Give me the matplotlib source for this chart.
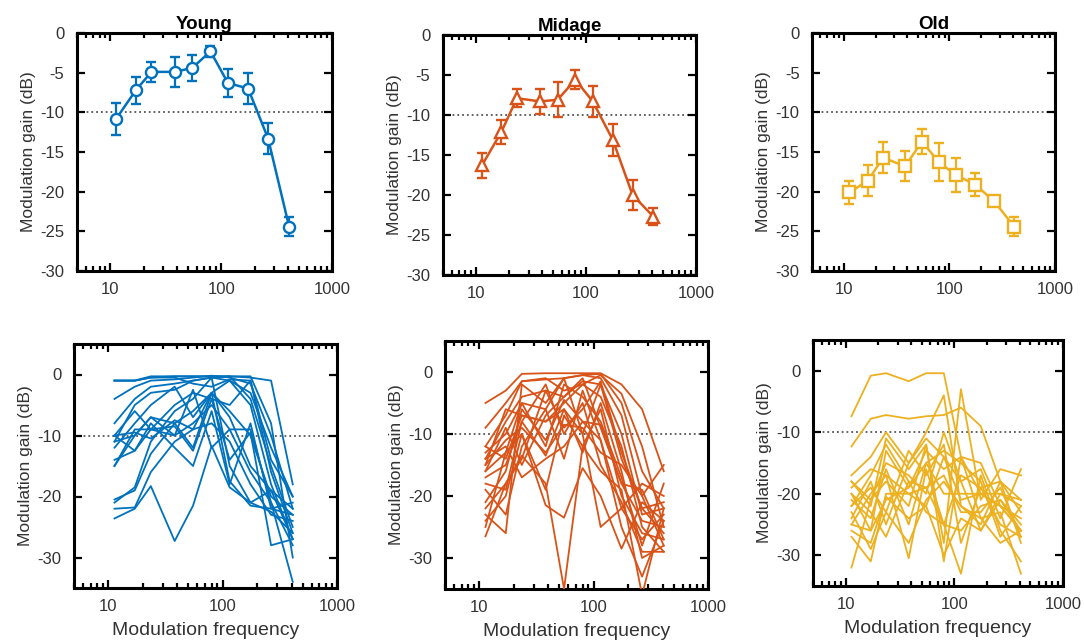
import numpy as np
import matplotlib
matplotlib.use("Agg")
import matplotlib.pyplot as plt
from matplotlib.ticker import LogLocator, NullFormatter, FixedLocator

plt.rcParams['font.family'] = ['Liberation Sans', 'DejaVu Sans']
plt.rcParams['axes.unicode_minus'] = False

# modulation frequencies (Hz)
freq = [11.3, 17, 23.5, 38, 55, 80, 115, 175, 265, 410]

groups = ['Young', 'Midage', 'Old']
colors = ['#0072BD', '#D95319', '#EDB120']
markers = ['o', '^', 's']

# group means and error bars (dB)
young_mean = [-10.8, -7.2, -4.9, -4.9, -4.4, -2.3, -6.3, -7.0, -13.3, -24.4]
young_err = [2.0, 1.7, 1.3, 1.9, 1.6, 0.7, 1.8, 1.9, 1.9, 1.2]
midage_mean = [-16.3, -12.1, -7.9, -8.3, -8.1, -5.6, -8.3, -13.1, -20.0, -22.7]
midage_err = [1.6, 1.5, 1.1, 1.6, 2.2, 1.2, 1.9, 2.0, 1.9, 1.1]
old_mean = [-20.1, -18.6, -15.7, -16.8, -13.7, -16.3, -17.9, -19.1, -21.2, -24.4]
old_err = [1.4, 2.0, 1.9, 1.9, 1.6, 2.4, 2.2, 1.5, 0.6, 1.2]

# individual listeners (dB)
young_ind = [
    [-1, -1, -0.3, -0.3, -0.3, -0.3, -0.3, -0.5, -1, -18],
    [-1, -1, -0.5, -0.3, -0.3, -0.3, -0.3, -0.3, -8, -30],
    [-4, -2, -1, -0.8, -0.5, -0.2, -0.5, -1.5, -10, -22],
    [-8, -4, -2, -1.5, -1, -0.5, -0.3, -4, -15, -25],
    [-11, -5, -3, -2.5, -1, -0.5, -1, -3, -12, -20],
    [-12, -8, -5, -2, -7, -3, -1, -5, -18, -27],
    [-15, -10, -7, -8, -12, -3, -6, -10, -20, -23],
    [-15, -9, -9, -10, -8, -5, -9, -9, -21, -34],
    [-10, -12.5, -8, -12, -15, -6, -18, -8, -22, -23],
    [-21, -18.5, -11, -6, -4, -0.5, -15, -21, -19, -22],
    [-22, -21.8, -16, -11, -9, -3, -17.5, -21.5, -22, -21],
    [-23.6, -22, -18.3, -27.3, -21.5, -11.7, -18.5, -21, -22.5, -26],
    [-20.5, -19, -13, -8, -6, -3, -7, -15, -19, -27],
    [-10, -6, -9, -8.5, -12.5, -4, -5, -1, -14, -20],
    [-11, -10, -7, -10, -2.5, -12, -9, -16, -21, -28],
    [-14, -12.5, -9, -5, -3, -4, -14, -9.5, -28, -27],
    [-10, -9.5, -10.5, -7.5, -9, -8, -11, -18, -23, -24],
    [-1, -1, -0.5, -0.5, -1.5, -2, -0.8, -1, -16, -26],
]
midage_ind = [
    [-5, -3, -0.3, -0.2, -0.2, -0.2, -0.2, -2, -6, -16],
    [-9, -5, -1.5, -1.2, -1, -0.5, -0.3, -5, -16, -22],
    [-12, -7, -1.5, -1, -3, -2, -0.5, -3.5, -12, -25],
    [-13, -10, -5, -6, -1, -0.5, -1, -7, -20, -28],
    [-14, -8, -4, -3, -4, -1.5, -2, -10, -23, -22],
    [-15, -6, -7, -8, -5, -2, -4, -12, -25, -29],
    [-16, -13, -5, -12, -2, -4, -8, -17, -28, -18],
    [-17, -15, -8, -13.5, -6, -10, -2, -14, -22, -26],
    [-18, -19, -8, -2, -10, -5, -15, -21, -29, -29],
    [-21, -16, -6, -11, -4.5, -8, -11, -25, -33, -24],
    [-23, -26, -2, -5, -1, -10, -25, -22, -18, -20],
    [-24, -20, -10, -19, -7, -12, -6, -20, -26, -27],
    [-25, -13, -10, -21.5, -23.5, -15.5, -20, -28.5, -21, -24],
    [-26.5, -18, -13.5, -18, -35, -12, -16, -19, -36, -22],
    [-15, -11, -9, -13, -8.5, -9, -13, -15, -20, -15],
    [-14, -12, -17, -14, -12, -8, -8.5, -18, -24, -25],
    [-12, -14, -7, -8, -6, -13, -5, -16, -30, -28],
    [-22, -18, -14, -3, -9, -6, -1.5, -13, -22, -21],
    [-19, -23, -12, -6, -14, -3, -11, -22, -27, -23],
    [-16, -9, -15, -7, -4, -1, -9, -18, -19, -27],
]
old_ind = [
    [-7.4, -0.8, -0.4, -1.7, -0.4, -0.4, -14, -20, -22, -26],
    [-12.3, -7.8, -7.2, -7.8, -7.4, -7.2, -6, -9, -18, -23],
    [-17, -14, -10, -15, -10, -4, -22, -25, -18, -21],
    [-18, -22, -11, -16, -12, -28, -3, -21, -16, -17],
    [-20, -26, -13, -19, -13, -16, -14, -15, -22, -26],
    [-21, -24, -16, -25, -15, -20, -20, -20, -20, -21],
    [-22, -19, -23, -13, -17, -12, -28, -19, -25, -27],
    [-23, -29, -23, -28, -21, -18, -22, -24, -28, -26],
    [-25, -20, -17, -30.5, -16, -25, -33, -17, -26, -31],
    [-27, -31, -20, -20, -22, -30, -24, -26, -21, -25],
    [-32, -21, -18, -22, -12, -31, -14, -24, -23, -33],
    [-19, -16, -17, -20, -19, -17, -23, -23, -19, -27],
    [-24, -18, -25, -15, -11, -14, -18, -26, -20, -22],
    [-26, -28, -20.5, -24, -22, -14, -21, -20, -22, -24],
    [-18, -21, -15, -17, -20, -10, -18, -16, -24, -16],
    [-20, -23, -27, -18, -19, -25, -17, -19, -18, -28],
    [-22, -17, -12, -18, -23, -25, -26, -22, -21, -26],
    [-25, -26, -21, -19, -15, -13, -15, -18, -27, -22],
]

means = [young_mean, midage_mean, old_mean]
errs = [young_err, midage_err, old_err]
inds = [young_ind, midage_ind, old_ind]

W, H = 1084, 643
fig = plt.figure(figsize=(W / 100, H / 100), dpi=100)

# axes boxes in pixels: left, right, top, bottom
top_boxes = [(77, 332, 33, 271), (443, 696, 35, 275), (812, 1055, 33, 271)]
bot_boxes = [(74, 337, 344, 588), (445, 708, 341, 589), (813, 1063, 340, 586)]

txt = '#333333'


def make_ax(box):
    l, r, t, b = box
    ax = fig.add_axes([l / W, (H - b) / H, (r - l) / W, (b - t) / H])
    ax.set_xscale('log')
    ax.set_xlim(5, 1000)
    ax.xaxis.set_major_locator(FixedLocator([10, 100, 1000]))
    ax.xaxis.set_minor_locator(LogLocator(base=10, subs=np.arange(2, 10)))
    ax.xaxis.set_minor_formatter(NullFormatter())
    ax.set_xticklabels(['10', '100', '1000'])
    ax.tick_params(which='both', direction='in', top=True, right=True,
                   labelsize=12, labelcolor=txt, width=1.6)
    ax.tick_params(which='major', length=6)
    ax.tick_params(which='minor', length=3.5)
    ax.tick_params(axis='x', pad=8)
    ax.tick_params(axis='y', pad=9)
    for s in ax.spines.values():
        s.set_linewidth(2.2)
    ax.axhline(-10, color='#555555', ls=':', lw=1.3, zorder=1)
    ax.set_ylabel('Modulation gain (dB)', fontsize=12.5, color=txt, labelpad=3)
    return ax


for i in range(3):
    ax = make_ax(top_boxes[i])
    ax.errorbar(freq, means[i], yerr=errs[i], color=colors[i], marker=markers[i],
                ms=8, mfc='white', mec=colors[i], mew=1.7, lw=1.8,
                capsize=3.5, elinewidth=1.6, capthick=1.6, zorder=3)
    ax.set_ylim(-30, 0)
    ax.set_yticks([0, -5, -10, -15, -20, -25, -30])
    ax.set_title(groups[i], fontsize=13.5, fontweight='bold', pad=3)

for i in range(3):
    ax = make_ax(bot_boxes[i])
    for row in inds[i]:
        ax.plot(freq, row, color=colors[i], lw=1.3, zorder=3)
    ax.set_ylim(-35, 5)
    ax.set_yticks([0, -10, -20, -30])
    ax.set_xlabel('Modulation frequency', fontsize=14, color=txt, labelpad=6)

fig.savefig('out.png', dpi=100)
